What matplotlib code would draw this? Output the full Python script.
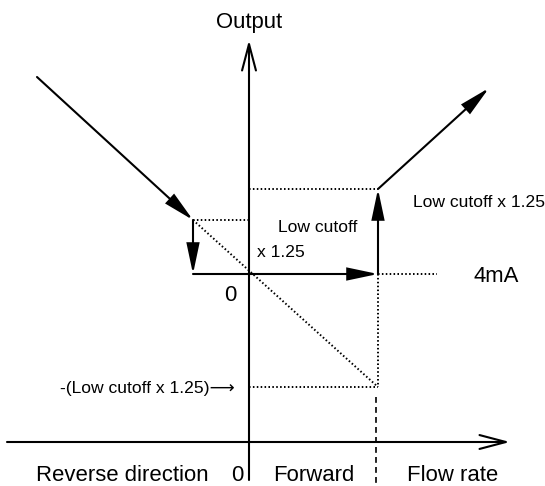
import matplotlib
matplotlib.use("Agg")
import matplotlib.pyplot as plt
from matplotlib.patches import FancyArrowPatch

# ---------------------------------------------------------
# Diagram values (flow rate on x, output on y, origin = 0 flow / 4mA)
# ---------------------------------------------------------
cut_fwd = 129          # forward flow at low cutoff x 1.25
cut_rev = -56          # reverse flow at low cutoff x 1.25
out_jump = 85          # output level reached at forward cutoff
out_rev = 54           # output level at reverse cutoff
neg_level = -113       # -(low cutoff x 1.25) level
flow_axis_y = -168     # position of the flow-rate axis

rev_line_x = [-212, cut_rev]
rev_line_y = [197, out_rev]
fwd_line_x = [cut_fwd, 240]
fwd_line_y = [out_jump, 186]

out_axis = [-206, 234]       # vertical (output) axis extent
flow_axis = [-242, 261]      # horizontal (flow rate) axis extent
ma_dotted_end = 188
dash_x = 127
dash_y = [-123, -212]

FONT = ["Liberation Sans", "DejaVu Sans"]
big = 15.9
small = 12.6

fig = plt.figure(figsize=(5.45, 4.86), dpi=100)
ax = fig.add_axes([0, 0, 1, 1])
ax.set_xlim(-249, 296)
ax.set_ylim(-212, 274)
ax.axis("off")


def arrow(x0, y0, x1, y1, style, lw=1.5):
    p = FancyArrowPatch((x0, y0), (x1, y1), arrowstyle=style,
                        mutation_scale=1, shrinkA=0, shrinkB=0,
                        color="black", lw=lw, joinstyle="miter")
    ax.add_patch(p)


open_head = "->,head_length=19,head_width=5"
fill_head = "-|>,head_length=18.5,head_width=3.9"

# axes with open arrowheads
arrow(0, out_axis[0], 0, out_axis[1], open_head)
arrow(flow_axis[0], flow_axis_y, flow_axis[1], flow_axis_y, open_head)

# output path
arrow(rev_line_x[0], rev_line_y[0], rev_line_x[1], rev_line_y[1], fill_head)
arrow(cut_rev, out_rev, cut_rev, 0, fill_head)
arrow(cut_rev, 0, cut_fwd, 0, fill_head)
arrow(cut_fwd, 0, cut_fwd, out_jump, fill_head)
arrow(fwd_line_x[0], fwd_line_y[0], fwd_line_x[1], fwd_line_y[1], fill_head)

# dotted guides
dot = dict(color="black", lw=1.4, linestyle=(0, (0.8, 1.2)))
ax.plot([0, cut_fwd], [out_jump, out_jump], **dot)
ax.plot([cut_rev, 0], [out_rev, out_rev], **dot)
ax.plot([cut_rev, cut_fwd], [out_rev, neg_level], **dot)
ax.plot([cut_fwd, cut_fwd], [0, neg_level], **dot)
ax.plot([0, cut_fwd], [neg_level, neg_level], **dot)
ax.plot([cut_fwd, ma_dotted_end], [0, 0], **dot)

# dashed divider between forward and flow rate
ax.plot([dash_x, dash_x], dash_y, color="black", lw=1.2,
        linestyle=(0, (3.5, 2.5)))

# labels
ax.text(0, 246, "Output", fontsize=big, family=FONT, ha="center", va="baseline")
ax.text(69, 42, "Low cutoff", fontsize=small, family=FONT, ha="center", va="baseline")
ax.text(8, 17, "x 1.25", fontsize=small, family=FONT, ha="left", va="baseline")
ax.text(164, 67, "Low cutoff x 1.25", fontsize=small, family=FONT, ha="left", va="baseline")
ax.text(247, -8, "4mA", fontsize=big, family=FONT, ha="center", va="baseline")
ax.text(-19, -27, "0", fontsize=big, family=FONT, ha="center", va="baseline")
ax.text(-14, -119, "-(Low cutoff x 1.25)\u27f6", fontsize=small, family=FONT,
        ha="right", va="baseline")
ax.text(-213, -207, "Reverse direction", fontsize=big, family=FONT, ha="left", va="baseline")
ax.text(-6, -207, "0", fontsize=big, family=FONT, ha="right", va="baseline")
ax.text(24, -207, "Forward", fontsize=big, family=FONT, ha="left", va="baseline")
ax.text(158, -207, "Flow rate", fontsize=big, family=FONT, ha="left", va="baseline")

fig.savefig("out.png", dpi=100)
